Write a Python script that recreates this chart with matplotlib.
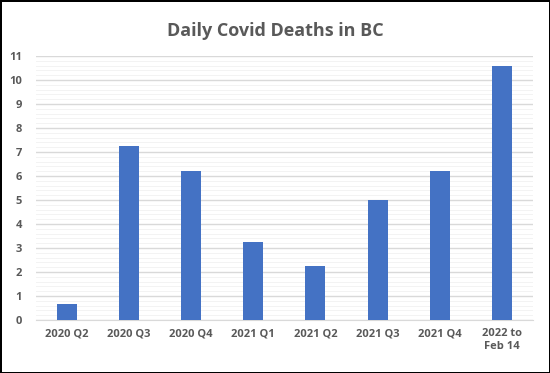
import numpy as np
import matplotlib.pyplot as plt
from matplotlib.ticker import MultipleLocator

plt.rcParams['font.family'] = ['Open Sans', 'DejaVu Sans']

categories = ['2020 Q2', '2020 Q3', '2020 Q4', '2021 Q1', '2021 Q2', '2021 Q3', '2021 Q4', '2022 to\nFeb 14']
deaths = [0.65, 7.25, 6.2, 3.25, 2.25, 5.0, 6.22, 10.6]

grey = '#595959'

fig = plt.figure(figsize=(5.5, 3.73), dpi=100, edgecolor='black', linewidth=2)
ax = fig.add_axes([0.065, 0.142, 0.904, 0.708])

x = np.arange(len(categories))
ax.bar(x, deaths, width=0.32, color='#4472C4', zorder=3)

ax.set_xlim(-0.5, len(categories) - 0.5)
ax.set_ylim(0, 11)
ax.yaxis.set_major_locator(MultipleLocator(1))
ax.yaxis.set_minor_locator(MultipleLocator(0.2))
ax.grid(axis='y', which='major', color='#d9d9d9', linewidth=1, zorder=0)
ax.grid(axis='y', which='minor', color='#f3f3f3', linewidth=0.7, zorder=0)

ax.set_xticks(x)
ax.set_xticklabels(categories, fontsize=8, fontweight='bold', color=grey)
for lab in ax.get_yticklabels():
    lab.set_fontweight('bold')
ax.tick_params(axis='y', labelsize=8, labelcolor=grey, length=0, pad=10)
ax.tick_params(axis='y', which='minor', length=0)
ax.tick_params(axis='x', length=0, pad=6)

for s in ['top', 'right', 'left']:
    ax.spines[s].set_visible(False)
ax.spines['bottom'].set_color('#d9d9d9')

fig.suptitle('Daily Covid Deaths in BC', y=0.94, fontsize=13, fontweight='bold', color=grey)

fig.savefig('out.png', dpi=100, edgecolor=fig.get_edgecolor())
